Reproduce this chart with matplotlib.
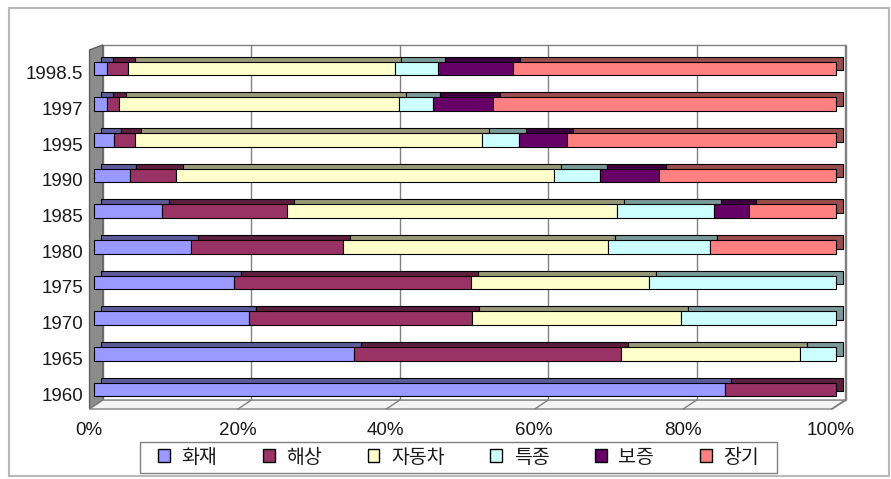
import numpy as np
import matplotlib
matplotlib.use("Agg")
import matplotlib.pyplot as plt
import matplotlib.transforms as mtransforms
from matplotlib.patches import Patch, Rectangle, Polygon

# share of premium by line of business (%), bottom row first
years = ['1960', '1965', '1970', '1975', '1980', '1985', '1990', '1995', '1997', '1998.5']
fire = [85.0, 35.1, 20.9, 18.9, 13.1, 9.2, 4.8, 2.7, 1.7, 1.7]        # 화재
marine = [15.0, 35.9, 30.1, 31.9, 20.5, 16.8, 6.3, 2.8, 1.7, 2.9]     # 해상
auto = [0.0, 24.2, 28.1, 24.0, 35.7, 44.5, 50.9, 46.8, 37.7, 35.9]    # 자동차
special = [0.0, 4.8, 20.9, 25.2, 13.7, 13.1, 6.2, 5.0, 4.6, 5.9]      # 특종
surety = [0.0, 0.0, 0.0, 0.0, 0.0, 4.7, 8.0, 6.4, 8.1, 10.1]          # 보증
longterm = [0.0, 0.0, 0.0, 0.0, 17.0, 11.7, 23.8, 36.3, 46.2, 43.5]   # 장기

series_names = ['화재', '해상', '자동차', '특종', '보증', '장기']
series_vals = [fire, marine, auto, special, surety, longterm]
colors = ['#9999FF', '#993366', '#FFFFCC', '#CCFFFF', '#660066', '#FF8080']

def darker(c, f=0.6):
    r, g, b = matplotlib.colors.to_rgb(c)
    return (r * f, g * f, b * f)

plt.rcParams['font.family'] = ['Liberation Sans', 'DejaVu Sans']

fig = plt.figure(figsize=(8.91, 4.79), dpi=100)
ax = fig.add_axes([0.1055, 0.1461, 0.8328, 0.7497])

ypos = np.arange(len(years))
h = 0.39       # front face height
dx, dy = 0.9, 0.14   # bar depth

# box: back wall, left wall, floor
wx, wy = 1.2, 0.25
ax.add_patch(Rectangle((wx, -0.547 + wy), 100.15, 9.95, facecolor='white',
                       edgecolor='#808080', lw=1, clip_on=False, zorder=0))
ax.add_patch(Polygon([(-0.6, -0.547), (-0.6, 9.52), (wx, 9.66), (wx, -0.547 + wy)],
                     closed=True, facecolor='#8c8c8c', edgecolor='#606060', lw=1,
                     clip_on=False, zorder=1))
ax.add_patch(Polygon([(-0.6, -0.547), (99.5, -0.547), (101.35, -0.547 + wy), (wx, -0.547 + wy)],
                     closed=True, facecolor='#f4f4f4', edgecolor='#808080', lw=1,
                     clip_on=False, zorder=1))

for t in range(20, 101, 20):
    ax.plot([t + wx, t + wx], [-0.547 + wy, 9.66], color='#808080', lw=1,
            clip_on=False, zorder=0.5)
    ax.plot([t - 0.6, t + wx], [-0.547, -0.547 + wy], color='#808080', lw=1,
            clip_on=False, zorder=1.5)

left = np.zeros(len(years))
for name, vals, col in zip(series_names, series_vals, colors):
    vals = np.array(vals)
    m = vals > 0
    ax.barh(ypos[m] + dy, vals[m], height=h, left=left[m] + dx, color=darker(col),
            edgecolor='black', lw=0.8, clip_on=False, zorder=2)
    ax.barh(ypos[m], vals[m], height=h, left=left[m], color=col,
            edgecolor='black', lw=0.8, clip_on=False, zorder=3)
    left += vals

ax.set_xlim(0, 100)
ax.set_ylim(-0.547, 9.52)
for s in ax.spines.values():
    s.set_visible(False)

ax.set_yticks(ypos)
ax.set_yticklabels(years)
ax.set_xticks(range(0, 101, 20))
ax.set_xticklabels(['0%', '20%', '40%', '60%', '80%', '100%'])
ax.tick_params(axis='y', length=0, pad=8, labelsize=13.5, labelcolor='#1a1a1a')
ax.tick_params(axis='x', length=0, pad=9, labelsize=13.5, labelcolor='#1a1a1a')
for lab in ax.get_yticklabels():
    lab.set_transform(lab.get_transform() + mtransforms.ScaledTranslation(0, -4.5 / 100, fig.dpi_scale_trans))
for lab in ax.get_xticklabels():
    lab.set_transform(lab.get_transform() + mtransforms.ScaledTranslation(-5 / 100, 0, fig.dpi_scale_trans))

# legend (frame drawn separately so it can be wider than tall padding allows)
handles = [Patch(facecolor=c, edgecolor='black', lw=1) for c in colors]
leg = fig.legend(handles, series_names, loc='center', bbox_to_anchor=(0.5146, 0.0459),
                 ncol=6, frameon=False,
                 prop={'family': ['Noto Sans CJK KR', 'DejaVu Sans'], 'size': 14},
                 handlelength=0.6, handleheight=0.6, handletextpad=0.6,
                 columnspacing=2.35, borderpad=0.2)
for t in leg.get_texts():
    t.set_color('#1a1a1a')
fig.patches.append(Rectangle((140 / 891, 1 - 472.7 / 479), 637 / 891, 31 / 479,
                             transform=fig.transFigure, fill=False,
                             edgecolor='#808080', lw=1))

# outer chart border
fig.patches.append(Rectangle((9 / 891, 1 - 476 / 479), 880 / 891, 468 / 479,
                             transform=fig.transFigure, fill=False,
                             edgecolor='#b8b8b8', lw=1.5))

fig.savefig('out.png', dpi=100)
